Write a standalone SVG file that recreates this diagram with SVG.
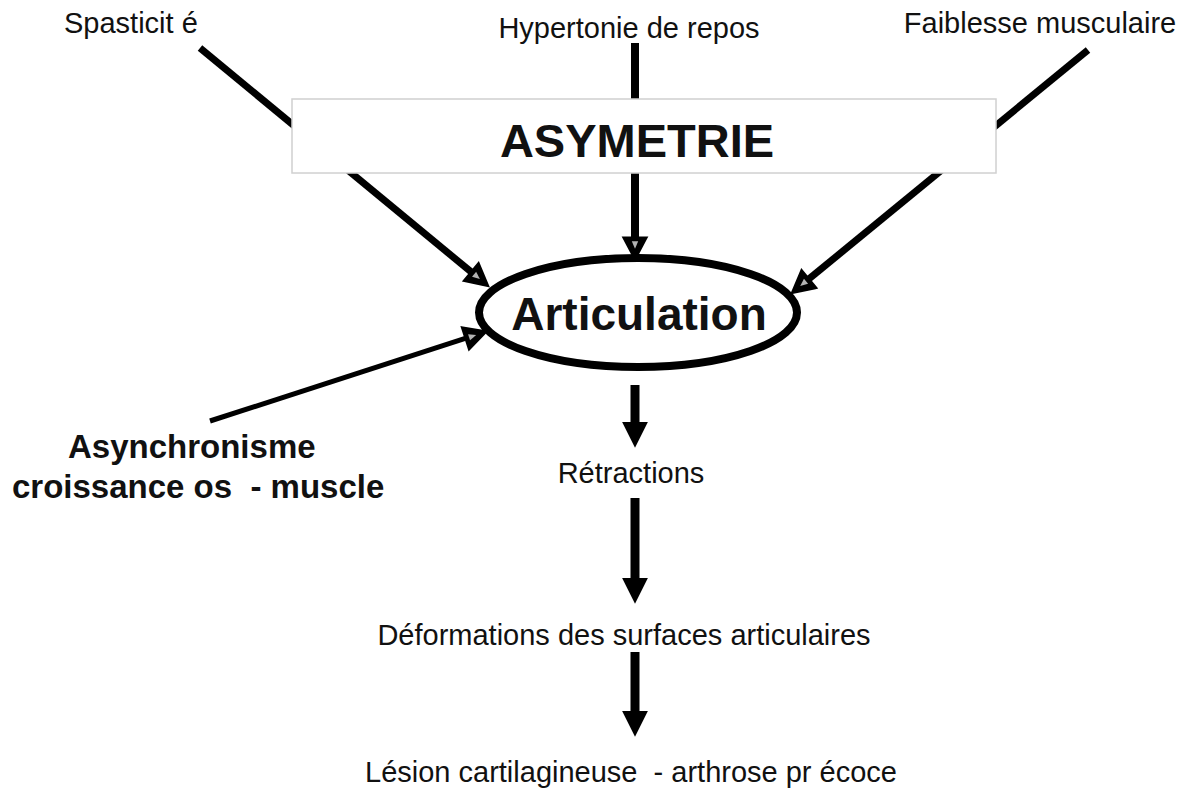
<svg xmlns="http://www.w3.org/2000/svg" width="1190" height="798" viewBox="0 0 1190 798">
<style>
.lbl{font-family:"Liberation Sans",Arial,sans-serif;font-size:29px;fill:#111}
.bold{font-family:"Liberation Sans",Arial,sans-serif;font-weight:bold;fill:#111}
.ln{stroke:#000;fill:none;stroke-linecap:butt}
</style>
<defs>
<marker id="hollow" markerUnits="userSpaceOnUse" markerWidth="30" markerHeight="30" viewBox="-3 -14 26 28" refX="0" refY="0" orient="auto">
<path d="M0,-10 L19,0 L0,10 Z" fill="#000" stroke="#000" stroke-width="3" stroke-linejoin="miter"/>
<path d="M3,-3 L10,0 L3,3 Z" fill="#fff" opacity="0.7"/>
</marker>
<marker id="solid" markerUnits="userSpaceOnUse" markerWidth="30" markerHeight="30" viewBox="-2 -14 28 28" refX="0" refY="0" orient="auto">
<path d="M0,-12 L24,0 L0,12 Z" fill="#000"/>
</marker>
</defs>
<g id="connectors">
<line class="ln" x1="200" y1="48" x2="471.6" y2="272.3" stroke-width="7" marker-end="url(#hollow)"/>
<line class="ln" x1="635" y1="43" x2="635" y2="238" stroke-width="8" marker-end="url(#hollow)"/>
<line class="ln" x1="1088" y1="50" x2="808.5" y2="279.3" stroke-width="7" marker-end="url(#hollow)"/>
<line class="ln" x1="210" y1="421" x2="466" y2="338.2" stroke-width="5" marker-end="url(#hollow)"/>
<line class="ln" x1="635" y1="385" x2="635" y2="422" stroke-width="9" marker-end="url(#solid)"/>
<line class="ln" x1="635" y1="498" x2="635" y2="578" stroke-width="9" marker-end="url(#solid)"/>
<line class="ln" x1="635" y1="652" x2="635" y2="711" stroke-width="9" marker-end="url(#solid)"/>
</g>
<g id="spasticite"><text class="lbl" x="64" y="33">Spasticit é</text></g>
<g id="hypertonie"><text class="lbl" x="629" y="38" text-anchor="middle">Hypertonie de repos</text></g>
<g id="faiblesse"><text class="lbl" x="1040" y="33" text-anchor="middle">Faiblesse musculaire</text></g>
<g id="asymetrie">
<rect x="292" y="99" width="704" height="74" fill="#fff" stroke="#d0d0d0" stroke-width="1.5"/>
<text class="bold" x="637" y="157" font-size="47" text-anchor="middle">ASYMETRIE</text>
</g>
<g id="articulation">
<ellipse cx="638" cy="312.5" rx="159" ry="54.5" fill="#fff" stroke="#000" stroke-width="8"/>
<text class="bold" x="639" y="330" font-size="46" text-anchor="middle">Articulation</text>
</g>
<g id="asynchronisme">
<text class="bold" font-size="33" xml:space="preserve"><tspan x="68" y="458">Asynchronisme</tspan><tspan x="12" y="498">croissance os  - muscle</tspan></text>
</g>
<g id="retractions"><text class="lbl" x="631" y="483" font-size="30" text-anchor="middle">Rétractions</text></g>
<g id="deformations"><text class="lbl" x="624" y="645" font-size="29.5" text-anchor="middle">Déformations des surfaces articulaires</text></g>
<g id="lesion"><text class="lbl" x="631" y="782" font-size="30" text-anchor="middle" xml:space="preserve">Lésion cartilagineuse  - arthrose pr écoce</text></g>
</svg>
